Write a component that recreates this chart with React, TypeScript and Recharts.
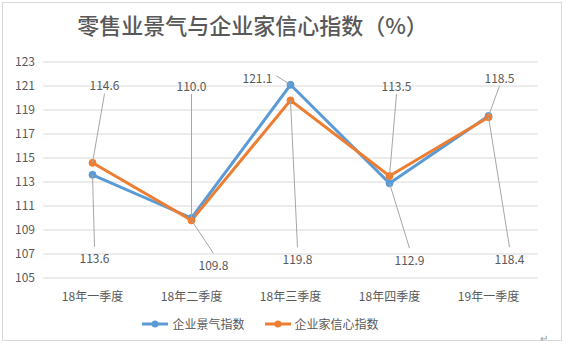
import { CartesianGrid, LabelList, Legend, Line, LineChart, XAxis, YAxis } from "recharts";

const quarters = ["18年一季度", "18年二季度", "18年三季度", "18年四季度", "19年一季度"];
const prosperity = [113.6, 110.0, 121.1, 112.9, 118.5];
const confidence = [114.6, 109.8, 119.8, 113.5, 118.4];
const yTicks = [105, 107, 109, 111, 113, 115, 117, 119, 121, 123];
const seriesNames = ["企业景气指数", "企业家信心指数"];

// where each data label sits relative to its point (leader line drawn between)
const prosperityLabelOffset = [
  [2, 83],
  [0, -133],
  [-33, -7],
  [20, 76],
  [11, -39]
];
const confidenceLabelOffset = [
  [12, -78],
  [22, 44],
  [7, 158],
  [7, -91],
  [21, 141]
];

const data = quarters.map((q, i) => ({
  quarter: q,
  prosperity: prosperity[i],
  confidence: confidence[i]
}));

const BLUE = "#5b9bd5";
const ORANGE = "#ed7d31";
const TEXT = "#595959";
const FONT = "'Noto Sans CJK SC', 'Noto Sans', sans-serif";

function makeLabel(offsets: number[][]) {
  return (props: any) => {
    const { x, y, value, index } = props;
    const [dx, dy] = offsets[index];
    const lx = x + dx;
    const ly = y + dy;
    let ex = lx;
    let ey = ly;
    if (Math.abs(dy) > 20) {
      ey = dy < 0 ? ly + 9 : ly - 11;
    } else {
      ex = dx < 0 ? lx + 19 : lx - 19;
      ey = ly - 2;
    }
    return (
      <g>
        <line x1={x} y1={y} x2={ex} y2={ey} stroke="#a6a6a6" strokeWidth={1} />
        <text
          x={lx}
          y={ly}
          textAnchor="middle"
          dominantBaseline="central"
          fontSize={12}
          fill={TEXT}
          fontFamily={FONT}
        >
          {Number(value).toFixed(1)}
        </text>
      </g>
    );
  };
}

function LegendContent({ payload }: any) {
  const items = [...(payload || [])].sort(
    (a: any, b: any) => seriesNames.indexOf(a.value) - seriesNames.indexOf(b.value)
  );
  return (
    <div style={{ display: "flex", justifyContent: "center", gap: 19, fontFamily: FONT }}>
      {items.map((item: any) => (
        <div key={item.value} style={{ display: "flex", alignItems: "center", fontSize: 12, color: TEXT }}>
          <svg width={28} height={10} style={{ marginRight: 3 }}>
            <line x1={1} y1={5} x2={27} y2={5} stroke={item.color} strokeWidth={3} />
            <circle cx={14} cy={5} r={3.5} fill={item.color} />
          </svg>
          {item.value}
        </div>
      ))}
    </div>
  );
}

export default function App() {
  return (
    <div style={{ position: "absolute", left: 0, top: 0, width: 565, height: 353, background: "#fff" }}>
      <div
        style={{
          position: "absolute",
          left: 2,
          top: 2,
          width: 558,
          height: 337,
          border: "1px solid #d9d9d9"
        }}
      />
      <div
        style={{
          position: "absolute",
          left: 0,
          top: 9,
          width: 505,
          textAlign: "center",
          fontFamily: FONT,
          fontSize: 22,
          fontWeight: 500,
          color: TEXT,
          lineHeight: "30px"
        }}
      >
        零售业景气与企业家信心指数（%）
      </div>
      <div style={{ position: "absolute", left: 540, top: 333, fontSize: 10, color: "#999" }}>↵</div>
      <div style={{ position: "absolute", left: 0, top: 0 }}>
        <LineChart width={565} height={353} data={data} margin={{ top: 62, right: 27, bottom: 45, left: 0 }}>
          <CartesianGrid vertical={false} stroke="#d9d9d9" />
          <XAxis
            dataKey="quarter"
            axisLine={false}
            tickLine={false}
            padding={{ left: 49.5, right: 49.5 }}
            height={30}
            tickMargin={8}
            tick={{ fontSize: 12, fill: TEXT, fontFamily: FONT }}
          />
          <YAxis
            domain={[105, 123]}
            ticks={yTicks}
            width={43}
            axisLine={false}
            tickLine={false}
            tick={{ fontSize: 12, fill: TEXT, fontFamily: FONT }}
          />
          <Legend
            layout="horizontal"
            verticalAlign="middle"
            align="center"
            wrapperStyle={{ top: 315, left: 0, width: 520 }}
            content={<LegendContent />}
          />
          <Line
            name={seriesNames[0]}
            dataKey="prosperity"
            stroke={BLUE}
            strokeWidth={3}
            dot={{ r: 3.5, fill: BLUE, stroke: BLUE, strokeWidth: 1 }}
            isAnimationActive={false}
          >
            <LabelList dataKey="prosperity" content={makeLabel(prosperityLabelOffset)} />
          </Line>
          <Line
            name={seriesNames[1]}
            dataKey="confidence"
            stroke={ORANGE}
            strokeWidth={3}
            dot={{ r: 3.5, fill: ORANGE, stroke: ORANGE, strokeWidth: 1 }}
            isAnimationActive={false}
          >
            <LabelList dataKey="confidence" content={makeLabel(confidenceLabelOffset)} />
          </Line>
        </LineChart>
      </div>
    </div>
  );
}
